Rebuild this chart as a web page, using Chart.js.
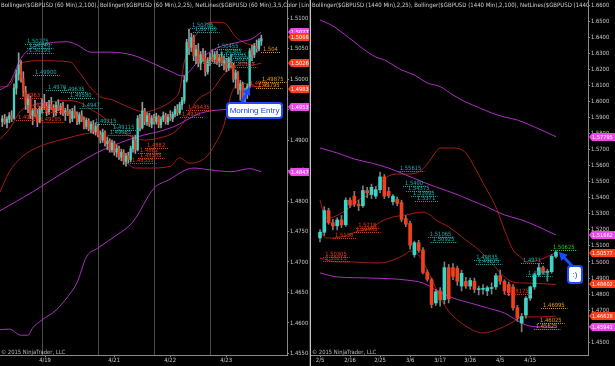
<!DOCTYPE html>
<html>
<head>
<meta charset="utf-8">
<script src="https://cdn.jsdelivr.net/npm/chart.js@4.4.0/dist/chart.umd.min.js"></script>
<style>
  html, body { margin: 0; padding: 0; background: #000; }
  body { width: 615px; height: 366px; position: relative; overflow: hidden; }
  #left { position: absolute; left: 0; top: 0; }
  #sep { position: absolute; left: 309px; top: 0; width: 1px; height: 366px; background: #3a3a3a; }
  #sep2 { position: absolute; left: 310px; top: 0; width: 1px; height: 366px; background: #c4c4c4; }
  #right { position: absolute; left: 311px; top: 0; }
</style>
</head>
<body>
<canvas id="left" width="309" height="366"></canvas>
<div id="sep"></div><div id="sep2"></div>
<canvas id="right" width="304" height="366"></canvas>
<script>
// ---- 60 min panel (4/17 .. 4/23), bar = [open, high, low, close]
const h1Bars = [
  [1.4930,1.4940,1.4922,1.4935],[1.4935,1.4942,1.4926,1.4929],[1.4929,1.4938,1.4920,1.4934],[1.4934,1.4945,1.4928,1.4940],
  [1.4940,1.4948,1.4930,1.4936],[1.4936,1.4992,1.4934,1.4985],[1.4985,1.5015,1.4975,1.5008],[1.5008,1.5043,1.4998,1.5022],
  [1.5022,1.5030,1.4995,1.5000],[1.5000,1.5012,1.4972,1.4980],[1.4980,1.4988,1.4950,1.4958],[1.4958,1.4975,1.4945,1.4968],
  [1.4968,1.4972,1.4935,1.4940],[1.4940,1.4952,1.4925,1.4948],[1.4948,1.4965,1.4938,1.4942],[1.4942,1.4950,1.4922,1.4930],
  [1.4930,1.4955,1.4928,1.4950],[1.4950,1.4968,1.4944,1.4960],[1.4960,1.4975,1.4950,1.4955],[1.4955,1.4962,1.4940,1.4946],
  [1.4946,1.4965,1.4942,1.4958],[1.4958,1.4970,1.4950,1.4952],[1.4952,1.4958,1.4938,1.4945],[1.4945,1.4962,1.4940,1.4957],
  [1.4957,1.4966,1.4948,1.4950],[1.4950,1.4960,1.4942,1.4955],[1.4955,1.4962,1.4940,1.4944],[1.4944,1.4952,1.4932,1.4948],
  [1.4948,1.4958,1.4940,1.4942],[1.4942,1.4950,1.4928,1.4935],[1.4935,1.4952,1.4930,1.4947],[1.4947,1.4956,1.4936,1.4940],
  [1.4940,1.4946,1.4925,1.4930],[1.4930,1.4945,1.4926,1.4941],[1.4941,1.4948,1.4930,1.4933],[1.4933,1.4938,1.4918,1.4922],
  [1.4922,1.4936,1.4918,1.4932],[1.4932,1.4935,1.4915,1.4918],[1.4918,1.4930,1.4912,1.4926],[1.4926,1.4932,1.4910,1.4914],
  [1.4914,1.4928,1.4908,1.4922],[1.4922,1.4926,1.4905,1.4908],[1.4908,1.4915,1.4895,1.4900],[1.4900,1.4918,1.4896,1.4912],
  [1.4912,1.4915,1.4890,1.4894],[1.4894,1.4905,1.4884,1.4898],[1.4898,1.4902,1.4880,1.4884],[1.4884,1.4900,1.4880,1.4895],
  [1.4895,1.4898,1.4875,1.4880],[1.4880,1.4892,1.4872,1.4886],[1.4886,1.4890,1.4868,1.4872],[1.4872,1.4885,1.4866,1.4880],
  [1.4880,1.4884,1.4860,1.4865],[1.4865,1.4878,1.4857,1.4874],[1.4874,1.4880,1.4862,1.4868],[1.4868,1.4890,1.4864,1.4886],
  [1.4886,1.4905,1.4880,1.4900],[1.4900,1.4908,1.4878,1.4884],[1.4884,1.4940,1.4882,1.4935],[1.4935,1.4942,1.4915,1.4920],
  [1.4920,1.4962,1.4918,1.4948],[1.4948,1.4952,1.4925,1.4930],[1.4930,1.4945,1.4924,1.4940],[1.4940,1.4944,1.4922,1.4926],
  [1.4926,1.4940,1.4920,1.4936],[1.4936,1.4942,1.4926,1.4930],[1.4930,1.4944,1.4926,1.4938],[1.4938,1.4940,1.4920,1.4925],
  [1.4925,1.4938,1.4920,1.4934],[1.4934,1.4946,1.4930,1.4940],[1.4940,1.4944,1.4926,1.4930],[1.4930,1.4942,1.4925,1.4937],
  [1.4937,1.4948,1.4932,1.4935],[1.4935,1.4946,1.4930,1.4942],[1.4942,1.4955,1.4938,1.4950],[1.4950,1.4958,1.4940,1.4945],
  [1.4945,1.4962,1.4942,1.4958],[1.4958,1.4970,1.4950,1.4965],[1.4965,1.5005,1.4960,1.4998],[1.4998,1.5065,1.4995,1.5060],
  [1.5060,1.5082,1.5040,1.5052],[1.5052,1.5075,1.5045,1.5068],[1.5068,1.5072,1.5030,1.5038],[1.5038,1.5055,1.5025,1.5048],
  [1.5048,1.5058,1.5020,1.5026],[1.5026,1.5045,1.5015,1.5040],[1.5040,1.5050,1.5028,1.5034],[1.5034,1.5046,1.5005,1.5012],
  [1.5012,1.5035,1.5008,1.5030],[1.5030,1.5042,1.5022,1.5036],[1.5036,1.5048,1.5028,1.5032],[1.5032,1.5045,1.5026,1.5040],
  [1.5040,1.5046,1.5024,1.5028],[1.5028,1.5040,1.5020,1.5035],[1.5035,1.5044,1.5022,1.5026],[1.5026,1.5038,1.5015,1.5030],
  [1.5030,1.5034,1.5012,1.5018],[1.5018,1.5036,1.5014,1.5032],[1.5032,1.5040,1.5018,1.5022],[1.5022,1.5026,1.4995,1.5000],
  [1.5000,1.5015,1.4985,1.5010],[1.5010,1.5012,1.4975,1.4982],[1.4982,1.4998,1.4965,1.4992],[1.4992,1.4995,1.4960,1.4970],
  [1.4970,1.4985,1.4955,1.4978],[1.4978,1.4992,1.4968,1.4988],[1.4988,1.5050,1.4985,1.5046],[1.5046,1.5055,1.5030,1.5040],
  [1.5040,1.5058,1.5035,1.5054],[1.5054,1.5064,1.5044,1.5050],[1.5050,1.5066,1.5046,1.5062],[1.5062,1.5072,1.5055,1.5066]
];
// Bollinger lines: [bar, price]
const h1Bb100Upper = [[-1,1.4982],[3,1.4993],[8,1.5034],[13,1.5052],[20,1.5059],[28,1.5061],[32,1.5056],[38,1.5044],[46,1.5044],[56,1.5039],[66,1.5023],[73,1.5011],[77,1.5005],[85,1.5033],[92,1.5051],[102,1.5061],[107,1.5066],[111,1.5077]];
const h1Bb100Mid = [[-1,1.4784],[13,1.4815],[28,1.4851],[41,1.4880],[56,1.4903],[73,1.4921],[85,1.4944],[95,1.4950],[111,1.4954]];
const h1Bb100Lower = [[-1,1.4589],[3,1.4590],[8,1.4580],[11,1.4580],[13,1.4592],[17,1.4605],[23,1.4621],[28,1.4643],[32,1.4666],[36,1.4708],[41,1.4723],[49,1.4744],[56,1.4766],[65,1.4821],[71,1.4834],[82,1.4854],[89,1.4851],[98,1.4848],[106,1.4853],[111,1.4848]];
const h1Bb25Upper = [[-1,1.4987],[3,1.4989],[5,1.5002],[8,1.5026],[16,1.5030],[29,1.5028],[33,1.5011],[38,1.4985],[42,1.4971],[47,1.4966],[54,1.4954],[61,1.4946],[68,1.4954],[73,1.4966],[76,1.4982],[78,1.5028],[83,1.5072],[90,1.5093],[95,1.5092],[100,1.5069],[103,1.5061],[107,1.5056],[111,1.5068]];
const h1Bb25Mid = [[-1,1.4901],[3,1.4918],[8,1.4948],[13,1.4957],[20,1.4962],[28,1.4965],[34,1.4960],[38,1.4950],[42,1.4941],[47,1.4926],[54,1.4908],[61,1.4900],[68,1.4904],[73,1.4911],[77,1.4925],[80,1.4945],[84,1.4967],[90,1.4982],[95,1.5008],[100,1.5021],[103,1.5027],[107,1.5023],[111,1.5026]];
const h1Bb25Lower = [[-1,1.4815],[3,1.4848],[8,1.4871],[13,1.4884],[20,1.4895],[28,1.4903],[35,1.4910],[41,1.4912],[44,1.4905],[48,1.4884],[53,1.4864],[57,1.4854],[63,1.4854],[72,1.4857],[76,1.4871],[80,1.4862],[87,1.4871],[91,1.4892],[95,1.4925],[98,1.4974],[102,1.4993],[107,1.4990],[111,1.4984]];
const h1PriceTicks = [1.455,1.46,1.465,1.47,1.475,1.48,1.485,1.49,1.495,1.5,1.505,1.51];
const h1DateTicks = [18.3, 47.9, 71.9, 95.9];
const h1DateLabels = ['4/19', '4/21', '4/22', '4/23'];
const h1SessionLines = [17, 41, 65, 89];
// NetLines labels: [text, bar, price, colour]
const h1Notes = [
  ['1.50275',10.6,1.5057,'c'],['1.50240',11.4,1.5051,'c'],['1.50195',11.4,1.5043,'c'],['1.49900',14,1.5007,'c'],
  ['1.4970',19.6,1.4982,'c'],['1.49635',26,1.4979,'c'],['1.49580',29,1.4969,'c'],['1.4947',34,1.4952,'c'],
  ['1.49215',39.7,1.4926,'c'],['1.49115',47.4,1.4916,'c'],['1.49085',46,1.4908,'c'],
  ['1.50785',81.3,1.5084,'c'],['1.50750',82.6,1.5077,'c'],['1.50455',92,1.5049,'c'],['1.50365',93.3,1.5041,'c'],
  ['1.50335',95.4,1.5034,'c'],['1.50275',97.6,1.5028,'c'],
  ['1.4963',8.4,1.4969,'r'],['1.49395',11,1.4952,'r'],['1.49155',6.7,1.4933,'r'],['1.49195',16,1.4930,'r'],
  ['1.4935',18.3,1.4946,'r'],['1.4882',62,1.4887,'r'],['1.4862',59,1.4879,'r'],['1.48585',59,1.4871,'r'],
  ['1.48555',55.6,1.4862,'r'],['1.49435',79.6,1.4949,'r'],['1.4920',77,1.4938,'r'],['1.50122',86,1.5026,'r'],
  ['1.50163',98.9,1.5020,'r'],['1.4985',106,1.4989,'r'],
  ['1.504',111.7,1.5044,'o'],['1.49875',111.3,1.4995,'o'],['1.49795',109.6,1.4985,'o']
];
// price markers on the axis: [price, colour]
const h1Badges = [[1.50772,'m'],[1.49539,'m'],[1.48476,'m'],[1.50684,'r'],[1.50260,'r'],[1.49836,'r']];

// ---- 1440 min panel (2/5 .. 4/23)
const d1Bars = [
  [1.5150,1.5200,1.5125,1.5185],[1.5185,1.5345,1.5165,1.5320],[1.5320,1.5335,1.5235,1.5245],[1.5245,1.5265,1.5200,1.5225],
  [1.5225,1.5275,1.5200,1.5262],[1.5262,1.5290,1.5215,1.5232],[1.5232,1.5400,1.5222,1.5385],[1.5385,1.5400,1.5340,1.5355],
  [1.5410,1.5440,1.5345,1.5360],[1.5360,1.5385,1.5320,1.5350],[1.5350,1.5475,1.5340,1.5445],[1.5445,1.5465,1.5400,1.5430],
  [1.5420,1.5485,1.5395,1.5465],[1.5410,1.5470,1.5395,1.5450],[1.5450,1.5560,1.5430,1.5530],[1.5530,1.5545,1.5395,1.5410],
  [1.5440,1.5465,1.5400,1.5412],[1.5375,1.5420,1.5355,1.5410],[1.5390,1.5405,1.5350,1.5365],[1.5370,1.5385,1.5250,1.5265],
  [1.5270,1.5290,1.5220,1.5235],[1.5240,1.5255,1.5080,1.5105],[1.5045,1.5130,1.5030,1.5120],[1.5120,1.5135,1.5060,1.5072],
  [1.5075,1.5090,1.4925,1.4935],[1.4935,1.4950,1.4880,1.4892],[1.4890,1.4900,1.4715,1.4735],[1.4745,1.4830,1.4730,1.4815],
  [1.4820,1.4840,1.4725,1.4765],[1.4765,1.5000,1.4740,1.4965],[1.4965,1.4985,1.4745,1.4770],[1.4965,1.4990,1.4890,1.4910],
  [1.4960,1.4975,1.4855,1.4880],[1.4850,1.4950,1.4820,1.4930],[1.4880,1.4905,1.4835,1.4850],[1.4850,1.4900,1.4830,1.4885],
  [1.4880,1.4900,1.4810,1.4830],[1.4828,1.4850,1.4795,1.4832],[1.4830,1.4860,1.4800,1.4835],[1.4820,1.4850,1.4790,1.4840],
  [1.4835,1.4870,1.4800,1.4840],[1.4845,1.4930,1.4830,1.4915],[1.4915,1.4950,1.4860,1.4880],[1.4880,1.4890,1.4800,1.4820],
  [1.4860,1.4875,1.4790,1.4810],[1.4845,1.4860,1.4700,1.4715],[1.4715,1.4730,1.4630,1.4650],[1.4620,1.4680,1.4565,1.4660],
  [1.4670,1.4785,1.4650,1.4775],[1.4775,1.4850,1.4760,1.4845],[1.4845,1.4930,1.4830,1.4920],[1.4920,1.4990,1.4910,1.4965],
  [1.4965,1.4975,1.4925,1.4935],[1.4935,1.4955,1.4880,1.4942],[1.4940,1.5045,1.4930,1.5035],[1.5035,1.5070,1.5025,1.5062]
];
const d1Bb100Upper = [[0,1.6507],[3,1.6470],[5,1.6432],[8,1.6370],[10,1.6328],[13,1.6276],[15,1.6258],[19,1.6196],[22,1.6164],[25,1.6115],[28,1.6092],[31,1.6040],[34,1.5996],[37,1.5962],[40,1.5928],[43,1.5903],[46,1.5884],[50,1.5841],[55,1.5780]];
const d1Bb100Mid = [[0,1.5710],[4,1.5679],[8,1.5641],[12,1.5616],[16,1.5585],[20,1.5542],[24,1.5498],[27,1.5467],[31,1.5430],[35,1.5386],[39,1.5342],[43,1.5293],[47,1.5262],[51,1.5218],[55,1.5168]];
const d1Bb100Lower = [[0,1.4932],[4,1.4907],[12,1.4900],[20,1.4888],[24,1.4869],[27,1.4826],[31,1.4776],[35,1.4745],[39,1.4714],[43,1.4682],[45,1.4651],[48,1.4608],[51,1.4596],[55,1.4594]];
const d1Bb25Upper = [[0,1.5386],[1,1.5293],[2,1.5274],[5,1.5305],[7,1.5342],[9,1.5386],[12,1.5430],[14,1.5492],[16,1.5535],[18,1.5548],[20,1.5548],[23,1.5560],[25,1.5610],[27,1.5685],[28,1.5710],[31,1.5710],[34,1.5679],[36,1.5592],[38,1.5492],[41,1.5342],[43,1.5199],[45,1.5075],[47,1.5025],[48,1.5000],[51,1.5012],[55,1.5058]];
const d1Bb25Mid = [[0,1.5205],[1,1.5156],[2,1.5149],[5,1.5156],[7,1.5174],[9,1.5193],[12,1.5212],[14,1.5249],[17,1.5280],[20,1.5293],[24,1.5311],[26,1.5286],[27,1.5262],[30,1.5218],[34,1.5137],[37,1.5075],[40,1.4994],[43,1.4907],[45,1.4875],[48,1.4869],[51,1.4866],[55,1.4860]];
const d1Bb25Lower = [[0,1.5025],[4,1.5000],[8,1.5000],[12,1.4994],[14,1.4994],[17,1.5012],[20,1.5050],[21,1.5068],[23,1.5044],[25,1.4950],[27,1.4838],[29,1.4732],[31,1.4664],[34,1.4601],[38,1.4558],[41,1.4577],[45,1.4626],[47,1.4658],[51,1.4658],[55,1.4663]];
const d1PriceTicks = [1.45,1.46,1.47,1.48,1.49,1.5,1.51,1.52,1.53,1.54,1.55,1.56,1.57,1.58,1.59,1.6,1.61,1.62,1.63,1.64,1.65,1.66];
const d1DateTicks = [0, 7, 14, 21, 28, 35, 42, 49];
const d1DateLabels = ['2/5', '2/16', '2/25', '3/6', '3/17', '3/26', '4/5', '4/15'];
const d1Notes = [
  ['1.55615',18.6,1.5567,'c'],['1.5490',19.8,1.5473,'c'],['1.54375',20.5,1.5442,'c'],['1.53995',21.7,1.5411,'c'],
  ['1.5371',22.6,1.5380,'c'],['1.51065',25.6,1.5156,'c'],['1.50925',26.3,1.5125,'c'],['1.49835',36.4,1.5012,'c'],
  ['1.49625',36.8,1.4988,'c'],['1.4971',47.3,1.4994,'c'],['1.48825',48.5,1.4913,'c'],
  ['1.5218',8.9,1.5212,'r'],['1.51985',8.4,1.5187,'r'],['1.5138',3.5,1.5149,'r'],['1.50305',1.2,1.5031,'r'],
  ['1.50215',1.2,1.5006,'r'],['1.48175',43.6,1.4801,'r'],
  ['1.46995',52,1.4714,'o'],['1.46025',51.3,1.4620,'o'],['1.45625',50.3,1.4583,'o'],
  ['1.50625',54.3,1.5075,'g']
];
const d1Badges = [[1.57795,'m'],[1.51662,'m'],[1.45941,'m'],[1.50577,'r'],[1.48602,'r'],[1.46628,'r']];

const FONT = '"Liberation Sans Narrow", "DejaVu Sans Condensed", "Liberation Sans", sans-serif';
const UP = '#3fd3c6', DOWN = '#f2401f';
const PURPLE = '#b02ec4', DARKRED = '#a81c14';
const NOTE_COLORS = { c: '#1fa9a9', r: '#e8391c', o: '#dc9a1c', g: '#2fc12f' };
const BADGE_COLORS = { m: '#ec48ec', r: '#ff3d1c' };
const CALLOUT_BLUE = '#1a4cff';

function drawArrow(ctx, x0, y0, x1, y1) {
  const ang = Math.atan2(y1 - y0, x1 - x0);
  ctx.strokeStyle = CALLOUT_BLUE;
  ctx.lineWidth = 3;
  ctx.beginPath();
  ctx.moveTo(x0, y0);
  ctx.lineTo(x1 - 5 * Math.cos(ang), y1 - 5 * Math.sin(ang));
  ctx.stroke();
  ctx.fillStyle = CALLOUT_BLUE;
  ctx.beginPath();
  ctx.moveTo(x1, y1);
  ctx.lineTo(x1 - 8 * Math.cos(ang) + 4.5 * Math.sin(ang), y1 - 8 * Math.sin(ang) - 4.5 * Math.cos(ang));
  ctx.lineTo(x1 - 8 * Math.cos(ang) - 4.5 * Math.sin(ang), y1 - 8 * Math.sin(ang) + 4.5 * Math.cos(ang));
  ctx.closePath();
  ctx.fill();
}

function overlay(p) {
  return {
    id: 'overlay',
    afterDraw(chart) {
      const { ctx, chartArea: a, scales: { x, y } } = chart;
      const W = chart.width;

      // indicator caption, cut at the panel edge like the original
      ctx.save();
      ctx.beginPath();
      ctx.rect(0, 0, p.titleClip, 12);
      ctx.clip();
      ctx.font = '6px ' + FONT;
      ctx.fillStyle = '#cfcfcf';
      ctx.textBaseline = 'alphabetic';
      ctx.fillText(p.title, 1, 7);
      ctx.restore();

      ctx.save();
      ctx.font = '5.8px ' + FONT;
      p.notes.forEach(n => {
        const px = x.getPixelForValue(n[1]);
        const py = Math.round(y.getPixelForValue(n[2]));
        const col = NOTE_COLORS[n[3]];
        ctx.fillStyle = col;
        ctx.fillText(n[0], px, py - 1);
        const w = ctx.measureText(n[0]).width;
        ctx.strokeStyle = col;
        ctx.lineWidth = 1;
        ctx.setLineDash([1, 1]);
        ctx.beginPath();
        ctx.moveTo(px - 2, py + 0.5);
        ctx.lineTo(px + w + 3, py + 0.5);
        ctx.stroke();
      });
      ctx.restore();

      ctx.save();
      ctx.font = '5.6px ' + FONT;
      ctx.textBaseline = 'middle';
      p.badges.forEach(b => {
        const py = Math.round(y.getPixelForValue(b[0]));
        const x0 = a.right + 1;
        ctx.fillStyle = BADGE_COLORS[b[1]];
        ctx.beginPath();
        ctx.moveTo(x0, py);
        ctx.lineTo(x0 + 3, py - 4);
        ctx.lineTo(W, py - 4);
        ctx.lineTo(W, py + 4);
        ctx.lineTo(x0 + 3, py + 4);
        ctx.closePath();
        ctx.fill();
        ctx.fillStyle = '#fff';
        ctx.fillText(b[0].toFixed(5), x0 + 3, py + 0.5);
      });
      ctx.restore();

      if (p.callout) {
        const c = p.callout;
        ctx.save();
        const bx = x.getPixelForValue(c.box[0]), by = y.getPixelForValue(c.box[1]);
        drawArrow(ctx, x.getPixelForValue(c.tail[0]), y.getPixelForValue(c.tail[1]),
                  x.getPixelForValue(c.tip[0]), y.getPixelForValue(c.tip[1]));
        ctx.fillStyle = '#fff';
        ctx.strokeStyle = CALLOUT_BLUE;
        ctx.lineWidth = 2;
        ctx.beginPath();
        ctx.roundRect(bx, by, c.w, c.h, 3);
        ctx.fill();
        ctx.stroke();
        ctx.fillStyle = '#1b3fd8';
        ctx.font = '8px "Liberation Sans", sans-serif';
        ctx.textAlign = 'center';
        ctx.textBaseline = 'middle';
        ctx.fillText(c.text, bx + c.w / 2, by + c.h / 2 + 0.5);
        ctx.restore();
      }

      ctx.save();
      ctx.font = '5.8px ' + FONT;
      ctx.fillStyle = '#b8b8b8';
      ctx.fillText('\u00a9 2015 NinjaTrader, LLC', 1, a.bottom - 1);
      ctx.restore();
    }
  };
}

function buildPanel(id, p) {
  const datasets = [];
  p.bands.forEach(b => datasets.push({
    type: 'line',
    data: b.pts.map(q => ({ x: q[0], y: q[1] })),
    borderColor: b.color,
    borderWidth: 1,
    pointRadius: 0,
    cubicInterpolationMode: 'monotone',
    order: 3
  }));
  datasets.push({
    type: 'bar',
    data: p.bars.map((b, i) => ({ x: i, y: [b[2], b[1]] })),
    backgroundColor: p.wick,
    barThickness: 1,
    grouped: false,
    order: 2
  });
  datasets.push({
    type: 'bar',
    data: p.bars.map((b, i) => ({ x: i, y: [b[0], b[3]] })),
    backgroundColor: p.bars.map(b => (b[3] >= b[0] ? UP : DOWN)),
    barThickness: p.bodyW,
    grouped: false,
    minBarLength: 1,
    order: 1
  });

  new Chart(document.getElementById(id).getContext('2d'), {
    type: 'bar',
    data: { datasets },
    options: {
      responsive: false,
      animation: false,
      devicePixelRatio: 1,
      events: [],
      layout: { padding: 0 },
      plugins: { legend: { display: false }, tooltip: { enabled: false } },
      scales: {
        x: {
          type: 'linear', position: 'bottom', min: p.xMin, max: p.xMax, offset: false,
          afterBuildTicks: s => { s.ticks = p.dateTicks.map(v => ({ value: v })); },
          afterFit: s => { s.height = 11; s.paddingLeft = 0; s.paddingRight = 0; },
          ticks: {
            color: '#c8c8c8', font: { size: 5.8, family: FONT }, padding: 0,
            maxRotation: 0, autoSkip: false,
            callback: (v, i) => p.dateLabels[i]
          },
          grid: { drawOnChartArea: false, offset: false, color: '#8a8a8a', tickLength: 2 },
          border: { color: '#8a8a8a' }
        },
        xg: {
          type: 'linear', position: 'bottom', min: p.xMin, max: p.xMax, offset: false,
          display: p.sessions.length > 0,
          afterBuildTicks: s => { s.ticks = p.sessions.map(v => ({ value: v })); },
          afterFit: s => { s.height = 0; s.paddingLeft = 0; s.paddingRight = 0; },
          ticks: { display: false },
          grid: { color: '#4c4c4c', drawTicks: false, offset: false },
          border: { display: false }
        },
        y: {
          type: 'linear', position: 'right', min: p.yMin, max: p.yMax,
          afterBuildTicks: s => { s.ticks = p.priceTicks.map(v => ({ value: v })); },
          afterFit: s => { s.width = p.axisW; s.paddingTop = 0; s.paddingBottom = 0; },
          ticks: {
            color: '#c8c8c8', font: { size: 5.8, family: FONT }, padding: 1,
            callback: v => v.toFixed(4)
          },
          grid: { drawOnChartArea: false, color: '#8a8a8a', tickLength: 2 },
          border: { color: '#8a8a8a' }
        }
      }
    },
    plugins: [overlay(p)]
  });
}

buildPanel('left', {
  bars: h1Bars, wick: '#9a9a9a', bodyW: 1.6,
  bands: [
    { pts: h1Bb100Upper, color: PURPLE }, { pts: h1Bb100Mid, color: PURPLE }, { pts: h1Bb100Lower, color: PURPLE },
    { pts: h1Bb25Upper, color: DARKRED }, { pts: h1Bb25Mid, color: DARKRED }, { pts: h1Bb25Lower, color: DARKRED }
  ],
  xMin: -1, xMax: 122, yMin: 1.454754, yMax: 1.512951, axisW: 22,
  priceTicks: h1PriceTicks, dateTicks: h1DateTicks, dateLabels: h1DateLabels, sessions: h1SessionLines,
  notes: h1Notes, badges: h1Badges,
  title: 'Bollinger($GBPUSD (60 Min),2,100), Bollinger($GBPUSD (60 Min),2,25), NetLines($GBPUSD (60 Min),3,5,Color [Line],Color [Line])',
  titleClip: 309,
  callout: { text: 'Morning Entry', box: [96.3, 1.49607], w: 55, h: 15, tail: [102.3, 1.4959], tip: [106.1, 1.4987] }
});

buildPanel('right', {
  bars: d1Bars, wick: '#7c7c7c', bodyW: 3,
  bands: [
    { pts: d1Bb100Upper, color: PURPLE }, { pts: d1Bb100Mid, color: PURPLE }, { pts: d1Bb100Lower, color: PURPLE },
    { pts: d1Bb25Upper, color: DARKRED }, { pts: d1Bb25Mid, color: DARKRED }, { pts: d1Bb25Lower, color: DARKRED }
  ],
  xMin: -2.1, xMax: 62.47, yMin: 1.442092, yMax: 1.663138, axisW: 27,
  priceTicks: d1PriceTicks, dateTicks: d1DateTicks, dateLabels: d1DateLabels, sessions: [],
  notes: d1Notes, badges: d1Badges,
  title: 'Bollinger($GBPUSD (1440 Min),2,25), Bollinger($GBPUSD (1440 Min),2,100), NetLines($GBPUSD (1440 Min),3,5,Color [Line],Color [Line])',
  titleClip: 277,
  callout: { text: ':)', box: [57.8, 1.4975], w: 14, h: 17, tail: [59, 1.4969], tip: [55.7, 1.5062] }
});
</script>
</body>
</html>
